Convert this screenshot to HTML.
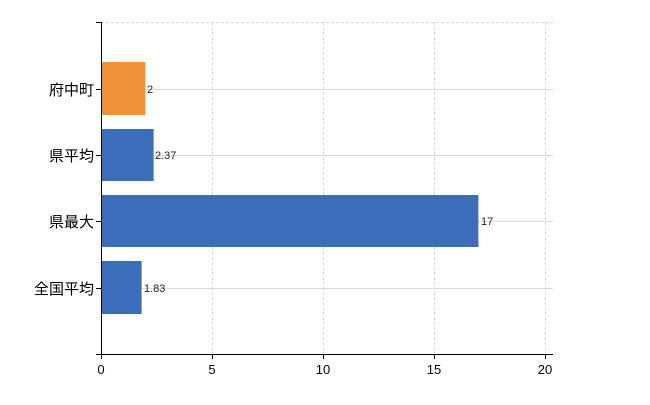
<!DOCTYPE html><html><head><style>body{margin:0;background:#fff}</style></head><body>
<svg width="650" height="400" xmlns="http://www.w3.org/2000/svg" font-family="Liberation Sans, Noto Sans CJK JP, sans-serif">
<g stroke="#d8d8d8" stroke-width="1">
<line x1="101" y1="22.5" x2="553" y2="22.5" stroke-dasharray="3,2"/>
<line x1="212.5" y1="22" x2="212.5" y2="354" stroke-dasharray="3,2"/>
<line x1="323.5" y1="22" x2="323.5" y2="354" stroke-dasharray="3,2"/>
<line x1="434.5" y1="22" x2="434.5" y2="354" stroke-dasharray="3,2"/>
<line x1="545.5" y1="22" x2="545.5" y2="354" stroke-dasharray="3,2"/>
<line x1="101" y1="89.5" x2="553" y2="89.5"/>
<line x1="101" y1="155.5" x2="553" y2="155.5"/>
<line x1="101" y1="221.5" x2="553" y2="221.5"/>
<line x1="101" y1="288.5" x2="553" y2="288.5"/>
</g>
<rect x="101" y="62" width="44.4" height="53" fill="#f0923a"/>
<rect x="101" y="129" width="52.6" height="52" fill="#3b6dbb"/>
<rect x="101" y="195" width="377.4" height="52" fill="#3b6dbb"/>
<rect x="101" y="261" width="40.6" height="53" fill="#3b6dbb"/>
<g font-size="11" fill="#222">
<text x="147" y="93">2</text>
<text x="155" y="159">2.37</text>
<text x="481" y="225">17</text>
<text x="144" y="292">1.83</text>
</g>
<g stroke="#000" stroke-width="1">
<line x1="101.5" y1="22" x2="101.5" y2="354"/>
<line x1="96" y1="22.5" x2="101" y2="22.5"/>
<line x1="96" y1="89.5" x2="101" y2="89.5"/>
<line x1="96" y1="155.5" x2="101" y2="155.5"/>
<line x1="96" y1="221.5" x2="101" y2="221.5"/>
<line x1="96" y1="288.5" x2="101" y2="288.5"/>
<line x1="96" y1="354.5" x2="553" y2="354.5"/>
<line x1="101.5" y1="354" x2="101.5" y2="359"/>
<line x1="212.5" y1="354" x2="212.5" y2="359"/>
<line x1="323.5" y1="354" x2="323.5" y2="359"/>
<line x1="434.5" y1="354" x2="434.5" y2="359"/>
<line x1="545.5" y1="354" x2="545.5" y2="359"/>
</g>
<g font-size="15" fill="#000" text-anchor="end">
<text x="94" y="95">府中町</text>
<text x="94" y="161">県平均</text>
<text x="94" y="227">県最大</text>
<text x="94" y="294">全国平均</text>
</g>
<g font-size="13" fill="#000" text-anchor="middle">
<text x="101" y="374">0</text>
<text x="212" y="374">5</text>
<text x="323" y="374">10</text>
<text x="434" y="374">15</text>
<text x="545" y="374">20</text>
</g>
</svg>
</body></html>
